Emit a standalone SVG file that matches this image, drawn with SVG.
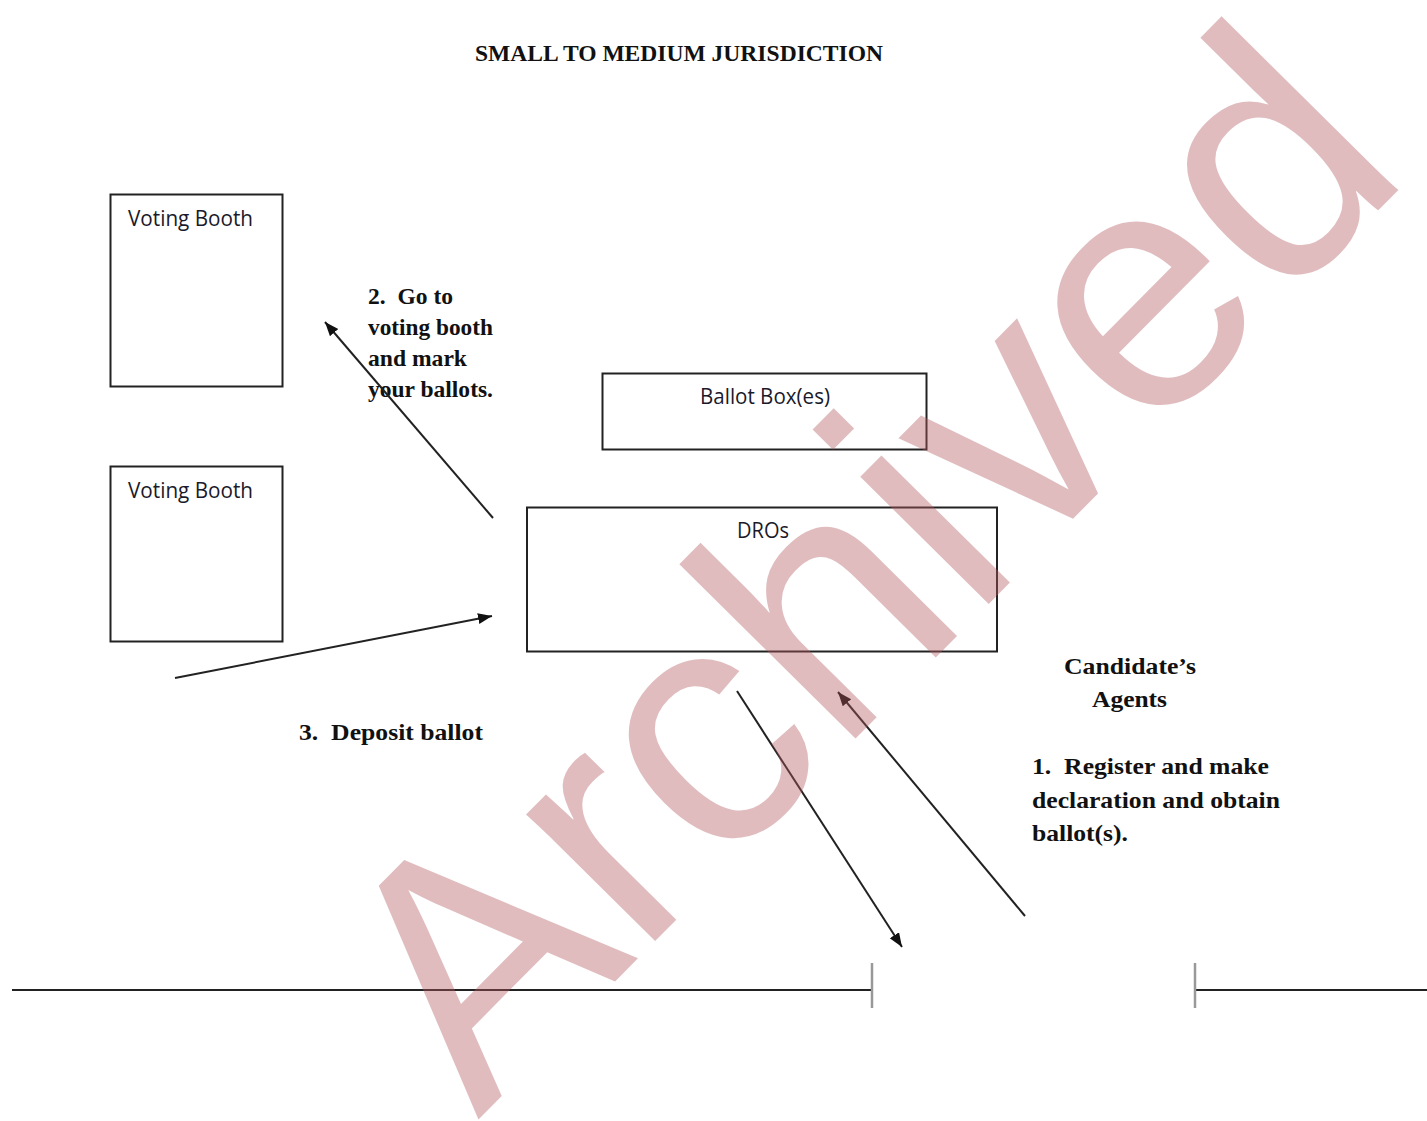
<svg xmlns="http://www.w3.org/2000/svg" width="1427" height="1121" viewBox="0 0 1427 1121">
<style>
.box{fill:none;stroke:#222;stroke-width:2}
.lbl{font-family:"Open Sans","Liberation Sans",sans-serif;font-size:21px;fill:#1a1a2a}
.srf{font-family:"Liberation Serif","Times New Roman",serif;font-weight:bold;font-size:23px;fill:#111;white-space:pre}
.con{stroke:#222;stroke-width:2;fill:none}
.tick{stroke:#999;stroke-width:2.5}
.wm{font-family:"Liberation Sans",Arial,sans-serif;font-size:342px;fill:#b35a60;opacity:0.4}
</style>
<defs>
<marker id="ah" markerUnits="userSpaceOnUse" markerWidth="16" markerHeight="12" refX="14" refY="5.5" orient="auto">
<path d="M0,0 L14,5.5 L0,11 Z" fill="#111"/>
</marker>
</defs>
<rect width="1427" height="1121" fill="#fff"/>
<text class="srf" x="475" y="61" font-size="25" textLength="408" lengthAdjust="spacingAndGlyphs">SMALL TO MEDIUM JURISDICTION</text>

<g id="booth1">
<rect class="box" x="110.5" y="194.5" width="172" height="192"/>
<text class="lbl" x="128" y="226" textLength="125" lengthAdjust="spacingAndGlyphs">Voting Booth</text>
</g>
<g id="booth2">
<rect class="box" x="110.5" y="466.5" width="172" height="175"/>
<text class="lbl" x="128" y="498" textLength="125" lengthAdjust="spacingAndGlyphs">Voting Booth</text>
</g>
<g id="ballotbox">
<rect class="box" x="602.5" y="373.5" width="324" height="76"/>
<text class="lbl" x="700" y="404" textLength="130" lengthAdjust="spacingAndGlyphs">Ballot Box(es)</text>
</g>
<g id="dros">
<rect class="box" x="527" y="507.5" width="470" height="144"/>
<text class="lbl" x="737" y="538" textLength="52" lengthAdjust="spacingAndGlyphs">DROs</text>
</g>
<g id="step2">
<text class="srf" x="368" y="304" textLength="85" lengthAdjust="spacingAndGlyphs">2.  Go to</text>
<text class="srf" x="368" y="335" textLength="125" lengthAdjust="spacingAndGlyphs">voting booth</text>
<text class="srf" x="368" y="366" textLength="99" lengthAdjust="spacingAndGlyphs">and mark</text>
<text class="srf" x="368" y="397" textLength="125" lengthAdjust="spacingAndGlyphs">your ballots.</text>
</g>
<g id="step3">
<text class="srf" x="299" y="740" textLength="184" lengthAdjust="spacingAndGlyphs">3.  Deposit ballot</text>
</g>
<g id="agents">
<text class="srf" x="1064" y="674" textLength="132" lengthAdjust="spacingAndGlyphs">Candidate’s</text>
<text class="srf" x="1092" y="707" textLength="75" lengthAdjust="spacingAndGlyphs">Agents</text>
</g>
<g id="step1">
<text class="srf" x="1032" y="774" textLength="237" lengthAdjust="spacingAndGlyphs">1.  Register and make</text>
<text class="srf" x="1032" y="808" textLength="248" lengthAdjust="spacingAndGlyphs">declaration and obtain</text>
<text class="srf" x="1032" y="841" textLength="96" lengthAdjust="spacingAndGlyphs">ballot(s).</text>
</g>
<g id="connectors">
<line class="con" x1="493" y1="518" x2="325" y2="322" marker-end="url(#ah)"/>
<line class="con" x1="175" y1="678" x2="492" y2="616" marker-end="url(#ah)"/>
<line class="con" x1="737" y1="691" x2="902" y2="947" marker-end="url(#ah)"/>
<line class="con" x1="1025" y1="916" x2="838" y2="692" marker-end="url(#ah)"/>
<line class="con" x1="12" y1="990" x2="872" y2="990"/>
<line class="tick" x1="872" y1="963" x2="872" y2="1008"/>
<line class="con" x1="1195" y1="990" x2="1427" y2="990"/>
<line class="tick" x1="1195" y1="963" x2="1195" y2="1008"/>
</g>
<text class="wm" transform="translate(478,1120) rotate(-45.3)">Archived</text>
</svg>
